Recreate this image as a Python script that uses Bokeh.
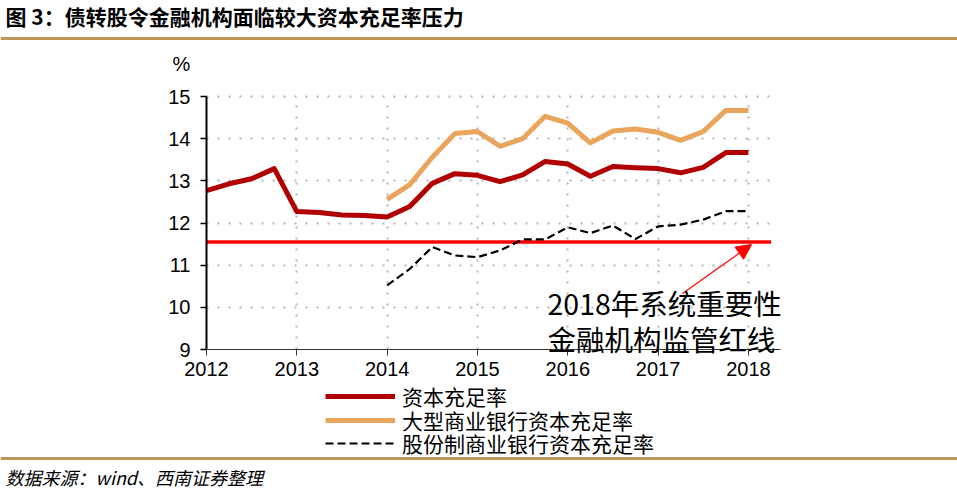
from bokeh.plotting import figure
from bokeh.models import (Range1d, FixedTicker, Label, Arrow, NormalHead,
                          Legend, LegendItem, Span, Grid)
from bokeh.embed import file_html
from bokeh.resources import INLINE

# ---------------- data ----------------
quarters = ["2012Q1", "2012Q2", "2012Q3", "2012Q4",
            "2013Q1", "2013Q2", "2013Q3", "2013Q4",
            "2014Q1", "2014Q2", "2014Q3", "2014Q4",
            "2015Q1", "2015Q2", "2015Q3", "2015Q4",
            "2016Q1", "2016Q2", "2016Q3", "2016Q4",
            "2017Q1", "2017Q2", "2017Q3", "2017Q4",
            "2018Q1"]
capital_ratio = [12.77, 12.93, 13.05, 13.29,
                 12.27, 12.25, 12.19, 12.18,
                 12.14, 12.39, 12.94, 13.17,
                 13.13, 12.98, 13.14, 13.46,
                 13.40, 13.11, 13.34, 13.31,
                 13.29, 13.19, 13.32, 13.67,
                 13.67]
large_bank_quarters = quarters[8:]
large_bank_ratio = [12.56, 12.91, 13.56, 14.12,
                    14.17, 13.82, 14.00, 14.53,
                    14.37, 13.90, 14.18, 14.23,
                    14.15, 13.96, 14.17, 14.67,
                    14.67]
joint_stock_quarters = quarters[8:]
joint_stock_ratio = [10.52, 10.91, 11.43, 11.23,
                     11.19, 11.35, 11.61, 11.61,
                     11.90, 11.76, 11.94, 11.62,
                     11.92, 11.96, 12.08, 12.28,
                     12.28]
red_line_value = 11.55
red_line_span = ["2012Q1", "2018Q2"]
year_ticks = [2012, 2013, 2014, 2015, 2016, 2017, 2018]
y_ticks = [9, 10, 11, 12, 13, 14, 15]
y_min, y_max = 9, 15

series_names = ["资本充足率", "大型商业银行资本充足率", "股份制商业银行资本充足率"]
title_text = "图 3：债转股令金融机构面临较大资本充足率压力"
unit_text = "%"
source_text = "数据来源：wind、西南证券整理"
note_lines = ["2018年系统重要性", "金融机构监管红线"]


def qx(q):
    return int(q[:4]) + (int(q[5]) - 1) / 4.0


CJK = "Noto Sans CJK SC"
LAT = "Liberation Sans"
DARK_RED = "#B00000"
ORANGE = "#E9A55B"
GOLD = "#BF9658"

# ---- geometry: the frame is the whole canvas; axes sit at fixed locations ----
W, H = 957, 493
AX_L, AX_T, AX_B = 206, 96, 349              # page px of 2012 / 15 / 9
PX_YEAR = 90.32
PX_UNIT = (AX_B - AX_T) / (y_max - y_min)


def dx(xp):   # page x -> data x
    return 2012 + (xp - AX_L) / PX_YEAR


def dy(yp):   # page y -> data y
    return y_max - (yp - AX_T) / PX_UNIT


p = figure(frame_width=W, frame_height=H, output_backend="svg",
           toolbar_location=None,
           x_range=Range1d(dx(0), dx(W)), y_range=Range1d(dy(H), dy(0)),
           min_border=0, min_border_left=0, min_border_right=0,
           min_border_top=0, min_border_bottom=0)
p.outline_line_color = None
p.background_fill_color = "white"
p.border_fill_color = "white"

x_end = dx(780)
grid_end = dx(777)

# grid (dotted)
if "cross_bounds" in Grid.properties():
    p.xgrid.ticker = FixedTicker(ticks=year_ticks[1:])
    p.ygrid.ticker = FixedTicker(ticks=y_ticks[1:])
    p.xgrid.cross_bounds = (y_min, y_max)
    p.ygrid.cross_bounds = (2012, grid_end)
    for g in (p.xgrid, p.ygrid):
        g.grid_line_color = "#b5b5b5"
        g.grid_line_width = 2
        g.grid_line_dash = "2 9"
else:
    p.xgrid.visible = False
    p.ygrid.visible = False
    p.segment(x0=year_ticks[1:], y0=[y_min] * 6, x1=year_ticks[1:], y1=[y_max] * 6,
              line_color="#b5b5b5", line_width=2, line_dash="2 9")
    p.segment(x0=[2012] * 6, y0=y_ticks[1:], x1=[grid_end] * 6, y1=y_ticks[1:],
              line_color="#b5b5b5", line_width=2, line_dash="2 9")

# axes
p.xaxis.fixed_location = y_min
p.yaxis.fixed_location = 2012
p.xaxis.bounds = (2012, x_end)
p.yaxis.bounds = (y_min, y_max)
p.yaxis.ticker = FixedTicker(ticks=y_ticks)
p.xaxis.ticker = FixedTicker(ticks=year_ticks)
for ax in (p.xaxis, p.yaxis):
    ax.major_tick_in = 0
    ax.major_tick_out = 6
    ax.minor_tick_line_color = None
    ax.major_label_text_font = LAT
    ax.major_label_text_font_size = "20px"
    ax.major_label_text_color = "black"
p.yaxis.axis_line_width = 2
p.yaxis.axis_line_color = "black"
p.yaxis.major_tick_line_width = 1.5
p.yaxis.major_label_standoff = 10
p.xaxis.axis_line_width = 1.2
p.xaxis.axis_line_color = "#333333"
p.xaxis.major_tick_line_color = "#333333"
p.xaxis.major_label_standoff = 6

# series
p.line([qx(q) for q in red_line_span], [red_line_value, red_line_value],
       line_color="#FF0000", line_width=3.5)
r1 = p.line([qx(q) for q in quarters], capital_ratio, line_color=DARK_RED,
            line_width=5, line_join="round")
r2 = p.line([qx(q) for q in large_bank_quarters], large_bank_ratio,
            line_color=ORANGE, line_width=5, line_join="round")
r3 = p.line([qx(q) for q in joint_stock_quarters], joint_stock_ratio,
            line_color="black", line_width=2.2, line_dash="8 4")

# legend: one box per row so the row pitch matches the reference
for name, rend, row_y in zip(series_names, [r1, r2, r3], [396, 420, 443]):
    lg = Legend(items=[LegendItem(label=name, renderers=[rend])],
                location=(325, H - (row_y + 15)), orientation="vertical",
                padding=0, margin=0, spacing=0,
                glyph_width=70, glyph_height=30, label_height=30,
                label_standoff=7,
                label_text_font=CJK, label_text_font_size="21px",
                label_text_color="black",
                border_line_color=None, background_fill_alpha=0)
    p.add_layout(lg, "center")

# annotation
p.add_layout(Arrow(x_start=dx(682), y_start=dy(293), x_end=dx(751), y_end=dy(244),
                   line_color="#FF0000", line_width=1.2,
                   end=NormalHead(size=15, fill_color="#FF0000",
                                  line_color="#FF0000")))
p.add_layout(Label(x=dx(547), y=dy(302), text=note_lines[0], text_font=CJK,
                   text_font_size="28.5px", text_baseline="middle",
                   text_color="black"))
p.add_layout(Label(x=dx(547), y=dy(338), text=note_lines[1], text_font=CJK,
                   text_font_size="28.5px", text_baseline="middle",
                   text_color="black"))

# header / footer
p.add_layout(Label(x=dx(5), y=dy(15), text=title_text, text_font=CJK,
                   text_font_style="bold", text_font_size="21px",
                   text_baseline="middle", text_color="black"))
p.add_layout(Span(location=dy(38), dimension="width", line_color=GOLD,
                  line_width=3))
p.add_layout(Label(x=dx(181), y=dy(63), text=unit_text, text_font=LAT,
                   text_font_size="20px", text_align="center",
                   text_baseline="middle", text_color="black"))
p.add_layout(Span(location=dy(458), dimension="width", line_color=GOLD,
                  line_width=3))
p.add_layout(Label(x=dx(5), y=dy(476), text=source_text, text_font=CJK,
                   text_font_style="italic", text_font_size="18px",
                   text_baseline="middle", text_color="black"))

open("out.html", "w").write(file_html(p, INLINE))
